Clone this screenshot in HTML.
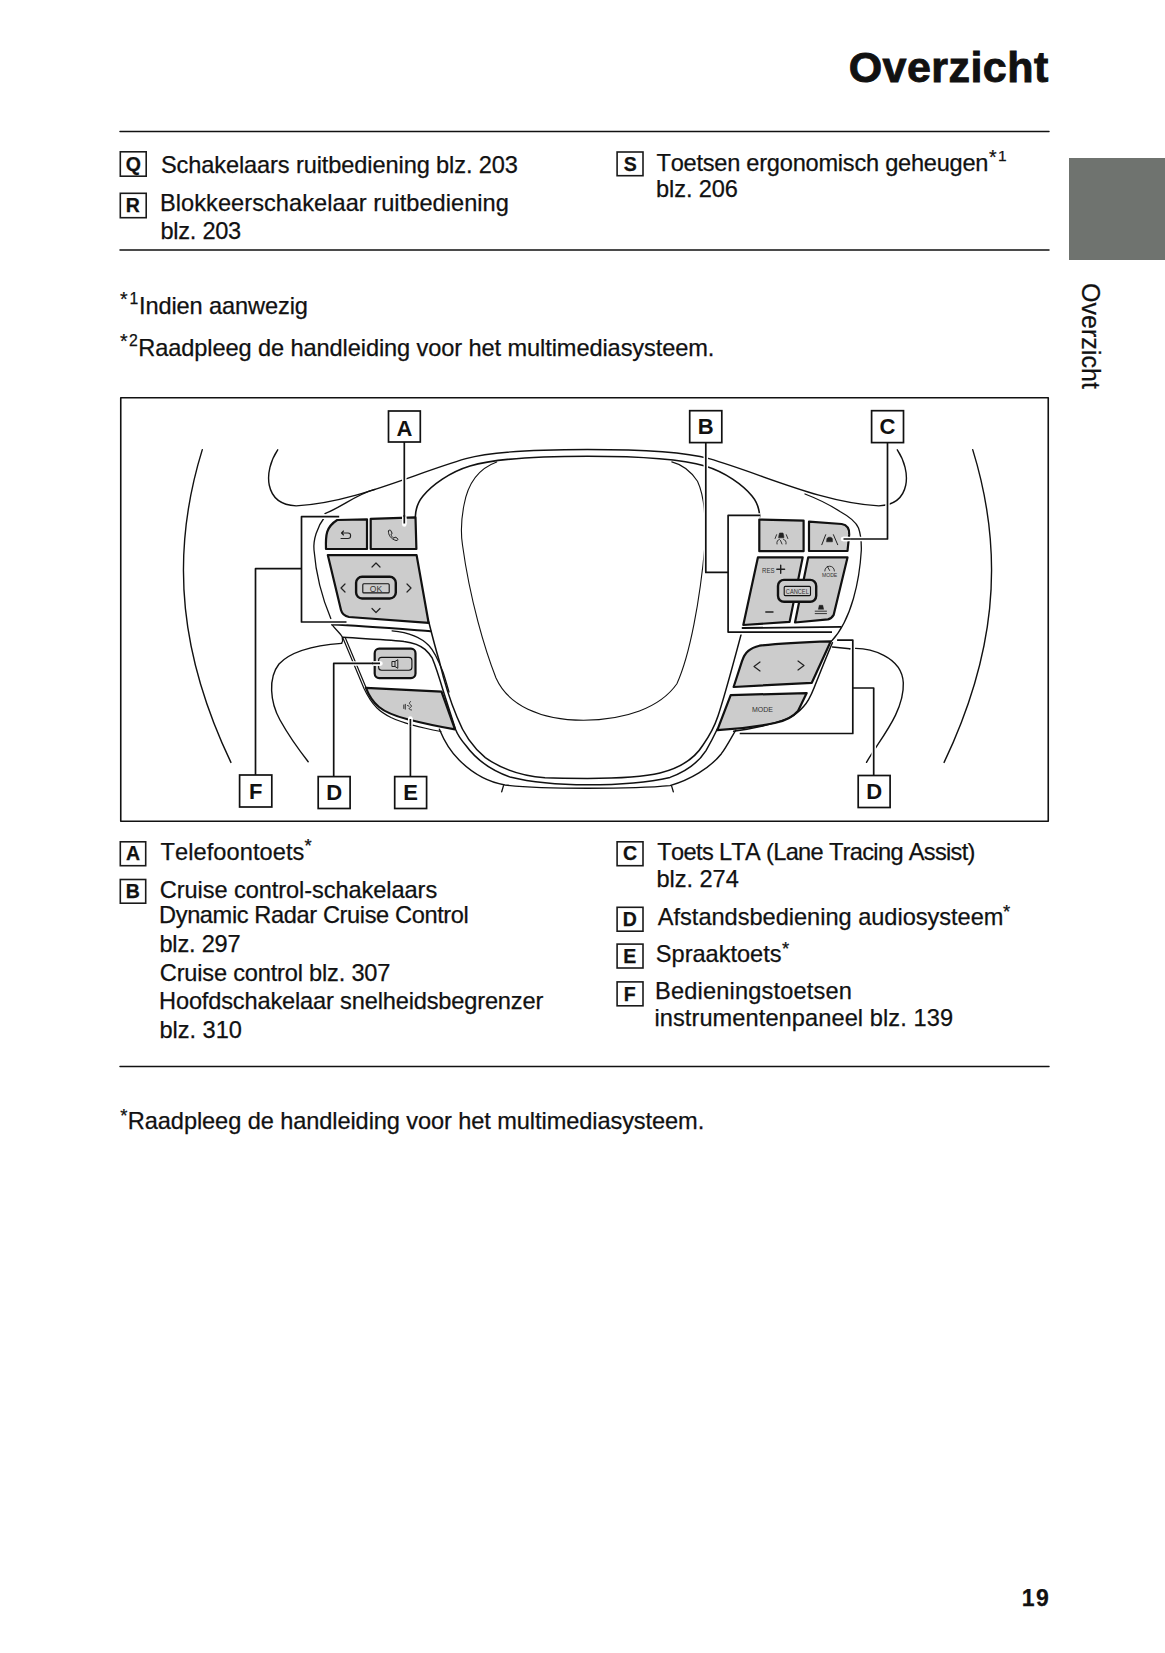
<!DOCTYPE html>
<html><head><meta charset="utf-8">
<style>
html,body{margin:0;padding:0;background:#fff;}
body{width:1165px;height:1653px;position:relative;overflow:hidden;font-family:"Liberation Sans",sans-serif;color:#111;font-kerning:none;text-rendering:optimizeSpeed;}
.t{position:absolute;white-space:nowrap;-webkit-text-stroke:0.25px #111;}
.bx{position:absolute;border:1.5px solid #1a1a1a;}
svg{position:absolute;left:0;top:0;}
</style></head><body>
<div class="t" style="left:848.64px;top:46.00px;font-size:43px;line-height:43px;letter-spacing:0.454px;font-weight:700;-webkit-text-stroke:0.9px #111;">Overzicht</div>
<div style="position:absolute;left:1069px;top:158px;width:96px;height:102px;background:#6f736f;"></div>
<div class="t" style="left:1103.16px;top:283.02px;font-size:25px;line-height:25px;letter-spacing:0.036px;transform-origin:0 0;transform:rotate(90deg)">Overzicht</div>
<div class="t" style="left:125.68px;top:155.00px;font-size:19.5px;line-height:19.5px;font-weight:700">Q</div>
<div class="t" style="left:160.93px;top:154.00px;font-size:23.6px;line-height:23.6px;letter-spacing:-0.111px;">Schakelaars ruitbediening blz. 203</div>
<div class="t" style="left:125.76px;top:196.00px;font-size:19.5px;line-height:19.5px;font-weight:700">R</div>
<div class="t" style="left:160.06px;top:192.00px;font-size:23.6px;line-height:23.6px;letter-spacing:0.042px;">Blokkeerschakelaar ruitbediening</div>
<div class="t" style="left:160.48px;top:220.00px;font-size:23.6px;line-height:23.6px;letter-spacing:-0.271px;">blz. 203</div>
<div class="t" style="left:623.65px;top:155.00px;font-size:19.5px;line-height:19.5px;font-weight:700">S</div>
<div class="t" style="left:656.47px;top:152.00px;font-size:23.6px;line-height:23.6px;letter-spacing:-0.238px;">Toetsen ergonomisch geheugen</div>
<div class="t" style="left:988.99px;top:148.00px;font-size:19.5px;line-height:19.5px;letter-spacing:0px">*</div>
<div class="t" style="left:998.02px;top:148.00px;font-size:15.5px;line-height:15.5px;letter-spacing:0px">1</div>
<div class="t" style="left:656.08px;top:178.00px;font-size:23.6px;line-height:23.6px;letter-spacing:-0.114px;">blz. 206</div>
<div class="t" style="left:119.89px;top:290.00px;font-size:19.5px;line-height:19.5px;letter-spacing:0px">*</div>
<div class="t" style="left:129.40px;top:291.00px;font-size:15.8px;line-height:15.8px;letter-spacing:0px">1</div>
<div class="t" style="left:139.02px;top:295.00px;font-size:23.6px;line-height:23.6px;letter-spacing:-0.119px;">Indien aanwezig</div>
<div class="t" style="left:119.89px;top:332.00px;font-size:19.5px;line-height:19.5px;letter-spacing:0px">*</div>
<div class="t" style="left:129.01px;top:333.00px;font-size:15.8px;line-height:15.8px;letter-spacing:0px">2</div>
<div class="t" style="left:138.26px;top:337.00px;font-size:23.6px;line-height:23.6px;letter-spacing:-0.096px;">Raadpleeg de handleiding voor het multimediasysteem.</div>
<div class="t" style="left:125.97px;top:844.00px;font-size:19.5px;line-height:19.5px;font-weight:700">A</div>
<div class="t" style="left:160.47px;top:841.00px;font-size:23.6px;line-height:23.6px;letter-spacing:0.081px;">Telefoontoets</div>
<div class="t" style="left:304.50px;top:837.00px;font-size:18.5px;line-height:18.5px;letter-spacing:0px">*</div>
<div class="t" style="left:125.75px;top:882.00px;font-size:19.5px;line-height:19.5px;font-weight:700">B</div>
<div class="t" style="left:159.80px;top:879.00px;font-size:23.6px;line-height:23.6px;letter-spacing:-0.077px;">Cruise control-schakelaars</div>
<div class="t" style="left:159.06px;top:904.00px;font-size:23.6px;line-height:23.6px;letter-spacing:-0.378px;">Dynamic Radar Cruise Control</div>
<div class="t" style="left:159.48px;top:933.00px;font-size:23.6px;line-height:23.6px;letter-spacing:-0.221px;">blz. 297</div>
<div class="t" style="left:159.80px;top:962.00px;font-size:23.6px;line-height:23.6px;letter-spacing:-0.187px;">Cruise control blz. 307</div>
<div class="t" style="left:159.06px;top:990.00px;font-size:23.6px;line-height:23.6px;letter-spacing:-0.161px;">Hoofdschakelaar snelheidsbegrenzer</div>
<div class="t" style="left:159.48px;top:1019.00px;font-size:23.6px;line-height:23.6px;letter-spacing:-0.031px;">blz. 310</div>
<div class="t" style="left:622.88px;top:844.00px;font-size:19.5px;line-height:19.5px;font-weight:700">C</div>
<div class="t" style="left:657.37px;top:841.00px;font-size:23.6px;line-height:23.6px;letter-spacing:-0.673px;">Toets LTA (Lane Tracing Assist)</div>
<div class="t" style="left:656.38px;top:868.00px;font-size:23.6px;line-height:23.6px;letter-spacing:-0.035px;">blz. 274</div>
<div class="t" style="left:622.77px;top:910.00px;font-size:19.5px;line-height:19.5px;font-weight:700">D</div>
<div class="t" style="left:657.85px;top:906.00px;font-size:23.6px;line-height:23.6px;letter-spacing:-0.023px;">Afstandsbediening audiosysteem</div>
<div class="t" style="left:1002.90px;top:903.00px;font-size:18.5px;line-height:18.5px;letter-spacing:0px">*</div>
<div class="t" style="left:623.28px;top:947.00px;font-size:19.5px;line-height:19.5px;font-weight:700">E</div>
<div class="t" style="left:655.83px;top:943.00px;font-size:23.6px;line-height:23.6px;letter-spacing:-0.022px;">Spraaktoets</div>
<div class="t" style="left:781.90px;top:940.00px;font-size:18.5px;line-height:18.5px;letter-spacing:0px">*</div>
<div class="t" style="left:623.80px;top:985.00px;font-size:19.5px;line-height:19.5px;font-weight:700">F</div>
<div class="t" style="left:655.06px;top:980.00px;font-size:23.6px;line-height:23.6px;letter-spacing:0.167px;">Bedieningstoetsen</div>
<div class="t" style="left:654.42px;top:1007.00px;font-size:23.6px;line-height:23.6px;letter-spacing:0.084px;">instrumentenpaneel blz. 139</div>
<div class="t" style="left:120.30px;top:1107.00px;font-size:18.5px;line-height:18.5px;letter-spacing:0px">*</div>
<div class="t" style="left:127.86px;top:1110.00px;font-size:23.6px;line-height:23.6px;letter-spacing:-0.092px;">Raadpleeg de handleiding voor het multimediasysteem.</div>
<div class="t" style="left:1021.85px;top:1587.00px;font-size:23px;line-height:23px;letter-spacing:1.419px;font-weight:700;">19</div>
<svg width="1165" height="1653" viewBox="0 0 1165 1653">
<g fill="none" stroke="#111" stroke-linecap="round" stroke-linejoin="round">
<path d="M120,131.6 H1049 M120,250 H1049 M120,1066.4 H1049" stroke-width="1.5"/>
<rect x="120.75" y="397.75" width="927.5" height="423.5" stroke-width="1.6"/>

<!-- outer rim arcs -->
<path d="M202.3,449.6 C168.2,559.7 181.8,659.2 230.9,762.4" stroke-width="1.4"/>
<path d="M972.7,449.6 C1006.8,559.7 993.2,659.2 944.1,762.4" stroke-width="1.4"/>

<!-- upper hand curve + rim top edge -->
<path d="M277.7,449.8 C263.4,471.2 263.4,504.2 296.2,505.9 C354.8,502.4 410.6,474.9 465.9,458.7 C495,450.5 545,449.5 587.5,449.5 C630,449.5 680,450.5 709.1,458.7 C764.4,474.9 820.2,502.4 878.8,505.9 C911.6,504.2 911.6,471.2 897.3,449.8" stroke-width="1.4"/>
<!-- line B left (merges) -->
<path d="M325,513.6 C342.2,506.8 356.8,494 375,489.4" stroke-width="1.4"/>
<!-- right line B' -->
<path d="M805,494 C818,499 830,505 840,511.5 C850,517 856,522 858.5,528 C861,535 861.5,542 861.3,550.5 C859.6,579.4 852,619.3 831.4,641.3" stroke-width="1.3"/>

<!-- hub outline top -->
<path d="M415.3,517.1 C415.5,510 418,502 423,496 C432,485 450,472 470,466 C490,460 520,456.2 587.5,456.2 C655,456.2 685,460 705,466 C725,472 743,485 752,496 C757,502 759.5,510 759.7,517.1" stroke-width="1.6"/>
<!-- left lower: gamma (inner) -->
<path d="M428.8,622 C432,635 436,650 439.5,661.8 C445,685 452,705 457,717 C462,730 470,745 485.3,757.6 C500,768 520,776 545,777.8 C560,778.4 575,778.4 587.5,778.4 C610,778.4 640,778 660,773 C680,768 695,758 703,745 C710,735 715,725 718,716 C725,695 731,672 741,634.9" stroke-width="1.5"/>
<!-- beta -->
<path d="M392.1,630.8 C410,632.5 422,638 429.1,645.8 C435,652 439,662 443,672 C445,678 447,685 449,692" stroke-width="1.3"/>
<!-- alpha + middle bottom line -->
<path d="M342.8,637.3 C370,639 395,640 404.1,641.5 C415,643 421,646 425,649.4 C429,653 431,656 432.3,658.2 C436,667 440,680 443.2,690.8 L455.5,729.3 C458,736 462,741 465.7,745.3 C475,758 490,770 510,777 C530,782 555,784.8 587.5,784.8 C620,784.8 650,782 670,777.4 C690,770 700,760 706,750.6 C711,742 714,736 717.3,729" stroke-width="1.5"/>
<!-- delta outer -->
<path d="M439.4,729.2 C445,743 451,752 459.1,760 C472,773 488,782 505,785 C530,788 560,788.2 587.5,788.2 C615,788.2 645,788 670,785.6 C690,780 710,768 721.4,753.7 C727,746 731,738 735.8,730.1" stroke-width="1.4"/>
<path d="M503.5,785.6 L501.7,791.8 M671.5,785.6 L673.3,791.8" stroke-width="1.3"/>

<!-- airbag inner outline -->
<path d="M496.7,461.9 C480,468 468,482 464,505 C461,520 461,535 462.5,545 C470,600 485,650 496,678 C508,705 540,720 583.5,720.3 C625,720 660,708 676.9,683.8 C690,655 700,600 705,545 C706,520 704,495 697.5,481.2 C690,470 680,464 671.8,461.9" stroke-width="1.1"/>

<!-- lower hand curves -->
<path d="M341.6,643.4 C320,645 292,650 279,664 C268,678 270,702 280,720 C290,738 299,750 308.2,761.7" stroke-width="1.4"/>
<path d="M849.8,648.7 C870.1,646.8 902.2,657 903.3,682.9 C904.5,711.6 880.3,738.7 866.5,762.3" stroke-width="1.4"/>
<path d="M832.5,647 L849.8,648.7" stroke-width="1.4"/>

<!-- left spoke edges -->
<path d="M325,516.5 C317,527 313,540 314,550 C316,575 323,600 330.8,618.6" stroke-width="1.3"/>
<path d="M332,624.6 C360,626 400,629 430.6,631.2" stroke-width="2"/>
<path d="M332,624.6 C336,630 341,634 342.2,637 C343,640 342.5,642 341.6,643.4" stroke-width="1.3"/>
<path d="M342.6,637.3 L363.9,688.2 C368,697 372,703 377,708 C381,712 386,715 391,717.5 C405,724 425,728.5 441,731.5" stroke-width="1.2"/>
<path d="M345.2,637.5 L366.2,688" stroke-width="1.2"/>

<!-- left buttons -->
<g fill="#ccc" stroke-width="2.2">
<path d="M337.2,520 L367,519.3 L367,549 L326,549 C325.5,535 326,527 337.2,520 Z"/>
<path d="M370.7,518.8 L415.5,517.3 L416.4,549 L370.7,549 Z"/>
<path d="M327.8,555.1 L416.6,555.1 L428.6,622.8 L349,617 C344,616 342,614 341,610 Z"/>
<rect x="374.7" y="648.7" width="40.8" height="29.4" rx="4.5"/>
<path d="M365.9,687.8 L441.5,691.7 L455,729.3 C440,727 420,722.5 407.5,719.3 C395,716 385,712 379,707 C373,702 369,696 365.9,687.8 Z"/>
</g>
<rect x="356.1" y="576.8" width="39.7" height="21.7" rx="6" fill="#ccc" stroke-width="2.4"/>
<rect x="362.8" y="583.8" width="26.4" height="9.1" rx="1" stroke-width="1.1"/>
<rect x="378.6" y="657.4" width="33.3" height="12.9" rx="3" stroke-width="1.1"/>

<!-- right buttons -->
<g fill="#ccc" stroke-width="2.2">
<path d="M759.3,519.5 L803.6,520.6 L803.6,551.2 L759.3,551.2 Z"/>
<path d="M809,521.7 L841.7,524 C847,525 849.5,529 849.2,534.4 L847.5,551 L809,551 Z"/>
<path d="M757.9,557.4 L802.7,557.4 L789.6,621.9 L743.3,625 Z"/>
<path d="M808.2,557.4 L847.5,557.4 L833.7,614.8 C832,617.5 830,619 827.9,619.4 L795,622.5 Z"/>
<path d="M759.5,645.7 C780,643 805,642 830.8,641.3 L811.8,682.8 L733.6,687 L742,661.1 C745,652 750,648 759.5,645.7 Z"/>
<path d="M730.7,695.1 L806.7,693.1 L798,711 C792,718 785,721 774.8,723 C760,726 740,729 717.3,730.1 Z"/>
</g>
<rect x="778" y="579.9" width="38.2" height="21.9" rx="6" fill="#ccc" stroke-width="2.4"/>
<rect x="784.2" y="586.4" width="26.3" height="9.2" rx="1" stroke-width="1.1"/>
<path d="M742.5,628 L840.6,626.9" stroke-width="1.8"/>
<path d="M832.4,642.7 C825,660 818,678 814,688 C810,698 806,704 803.6,706.5 C798,713 793,716 787.1,718.9 C770,725 750,729 733.6,731.2" stroke-width="1.5"/>

<!-- halos -->
<g stroke-width="4.5" stroke="#fff" stroke-linecap="butt">
<path d="M404.3,442 V524"/>
<path d="M339.2,516.7 H301.5 V622 H346.5"/>
<path d="M301.5,568.7 H255.5 V775"/>
<path d="M380.7,663.4 H333.7 V776.6"/>
<path d="M410.4,718 V776.6"/>
<path d="M705.8,442.6 V572.4 H728.1"/>
<path d="M760.3,515.4 H728.1 V632.1 H832"/>
<path d="M887.5,442.6 V539 H842.9"/>
<path d="M837.1,640.1 H852.8 V733.5 H739.7"/>
<path d="M852.8,688 H873.7 V775.5"/>
</g>
<!-- bracket lines / leaders -->
<g stroke-width="1.7" stroke-linecap="butt">
<path d="M404.3,442 V524"/>
<path d="M339.2,516.7 H301.5 V622 H346.5"/>
<path d="M301.5,568.7 H255.5 V775"/>
<path d="M380.7,663.4 H333.7 V776.6"/>
<path d="M410.4,718 V776.6"/>
<path d="M705.8,442.6 V572.4 H728.1"/>
<path d="M760.3,515.4 H728.1 V632.1 H832"/>
<path d="M887.5,442.6 V539 H842.9"/>
<path d="M837.1,640.1 H852.8 V733.5 H739.7"/>
<path d="M852.8,688 H873.7 V775.5"/>
</g>
</g>

<!-- label boxes in diagram -->
<g fill="#fff" stroke="#111" stroke-width="1.7">
<rect x="388.5" y="411" width="31.8" height="31"/>
<rect x="689.7" y="410.7" width="32.1" height="31.9"/>
<rect x="871.6" y="410.7" width="31.9" height="31.9"/>
<rect x="239.6" y="775" width="32.2" height="32"/>
<rect x="318.2" y="776.6" width="31.9" height="31.9"/>
<rect x="394.7" y="776.6" width="31.9" height="31.9"/>
<rect x="858.2" y="775.5" width="31.9" height="32"/>
</g>
<g font-family="Liberation Sans" font-weight="700" font-size="22" text-anchor="middle" fill="#111">
<text x="404.4" y="435.7">A</text>
<text x="705.8" y="434.2">B</text>
<text x="887.5" y="434.2">C</text>
<text x="255.7" y="798.5">F</text>
<text x="334.2" y="800.1">D</text>
<text x="410.7" y="800.1">E</text>
<text x="874.2" y="799">D</text>
</g>

<!-- icons & small text -->
<g fill="none" stroke="#fff" stroke-width="4.5" stroke-linecap="round">
<path d="M404.3,519 V524.5 M848,539 H843 M375,663.4 H380.5 M410.4,724 V718.5"/>
</g>
<g stroke="#111" stroke-width="1.7" stroke-linecap="butt" fill="none">
<path d="M404.3,515 V523.5 M850,539 H843.5 M372,663.4 H380 M410.4,726 V719"/>
</g>
<g fill="none" stroke="#222" stroke-width="1" stroke-linecap="round" stroke-linejoin="round">
<path d="M341.5,533 H348 C351.5,533 351.5,538.5 348,538.5 H341 M341.5,533 L343.5,531 M341.5,533 L343.5,535" stroke-width="1.1"/>
<path d="M388.5,531 C388,535 391,539 396,540.5 C398,541 398.5,539 397,538 L395,537 L394,538.3 C392.5,537.5 391.3,536 391,534.3 L392.2,533.5 L390.8,530.5 C390,529.8 388.7,530 388.5,531 Z"/>
<path d="M372,567 L376,563 L380,567 M372,608.5 L376,612.5 L380,608.5 M345,584 L341,588 L345,592 M407,584 L411,588 L407,592" stroke-width="1.2"/>
<path d="M392.3,661.5 H395 V666.5 H392.3 Z M395,661.5 L397.8,659.7 V668.3 L395,666.5"/>
<path d="M760,662 L754,666.5 L760,671 M798,661 L804,665.5 L798,670" stroke-width="1.2"/>
<!-- row1 left: radar cruise -->
<path d="M775.1,538.5 L776.6,534.7 M786.3,534.7 L787.8,538.5 M777,544 C776.5,541.5 777.5,540 779.5,539.3 M786,544 C786.5,541.5 785.5,540 783.5,539.3 M780.5,540.5 L782,544" stroke-width="0.9"/>
<path d="M778.8,536 L779.6,533 H783 L783.8,536 V537.8 H778.8 Z" fill="#222" stroke-width="0.6"/>
<!-- LTA -->
<path d="M821.8,544.7 L825.7,534.7 M833.4,534.7 L837.7,544.7" stroke-width="1"/>
<path d="M826.8,539 C827,536.5 832.2,536.5 832.4,539 V541.8 H826.8 Z" fill="#222" stroke-width="0.6"/>
<!-- RES + and minus -->
<path d="M780.7,565.3 V573.2 M776.8,569.2 H784.6 M765.8,612 H773" stroke-width="1.4"/>
<!-- MODE gauge -->
<path d="M824.8,571 C824.8,564.5 834.4,564.5 834.4,571 M829.6,570.5 L827.3,566.3" stroke-width="0.9"/>
<!-- approach icon -->
<path d="M815.2,611.2 H826.5 M815.2,613.6 H826.5" stroke-width="0.9"/>
<path d="M818.5,609 L819.3,605.3 H822.7 L823.5,609 Z" fill="#222" stroke-width="0.6"/>
<!-- voice icon -->
<path d="M403.8,705 V708.5 M405.3,704.3 V709.2 M410.5,701.5 C409,703 409,704 410.8,705 C412.2,706 411,707.5 409.5,708 C408.5,708.5 409.5,709.8 411.5,710 M407.5,705.5 L409,706.2" stroke-width="0.9"/>
</g>
<g font-family="Liberation Sans" fill="#333" text-anchor="middle">
<text x="376" y="591.5" font-size="8.5">OK</text>
<text x="797.3" y="594.2" font-size="6.3" textLength="23" lengthAdjust="spacingAndGlyphs">CANCEL</text>
<text x="768.3" y="572.5" font-size="7" textLength="12.5" lengthAdjust="spacingAndGlyphs">RES</text>
<text x="829.6" y="577.2" font-size="5.6" textLength="15.4" lengthAdjust="spacingAndGlyphs">MODE</text>
<text x="762.5" y="712" font-size="7">MODE</text>
</g>
<g fill="none" stroke="#1a1a1a" stroke-width="1.6"><rect x="120.30" y="151.80" width="25.90" height="24.40"/><rect x="120.30" y="193.30" width="25.90" height="24.40"/><rect x="617.10" y="152.00" width="25.90" height="23.70"/><rect x="120.30" y="841.80" width="25.40" height="23.90"/><rect x="120.30" y="879.50" width="25.40" height="23.70"/><rect x="617.10" y="841.80" width="25.90" height="23.90"/><rect x="617.10" y="907.30" width="25.90" height="23.90"/><rect x="617.10" y="944.10" width="25.90" height="23.90"/><rect x="617.10" y="981.90" width="25.90" height="23.90"/></g>
</svg>
</body></html>
